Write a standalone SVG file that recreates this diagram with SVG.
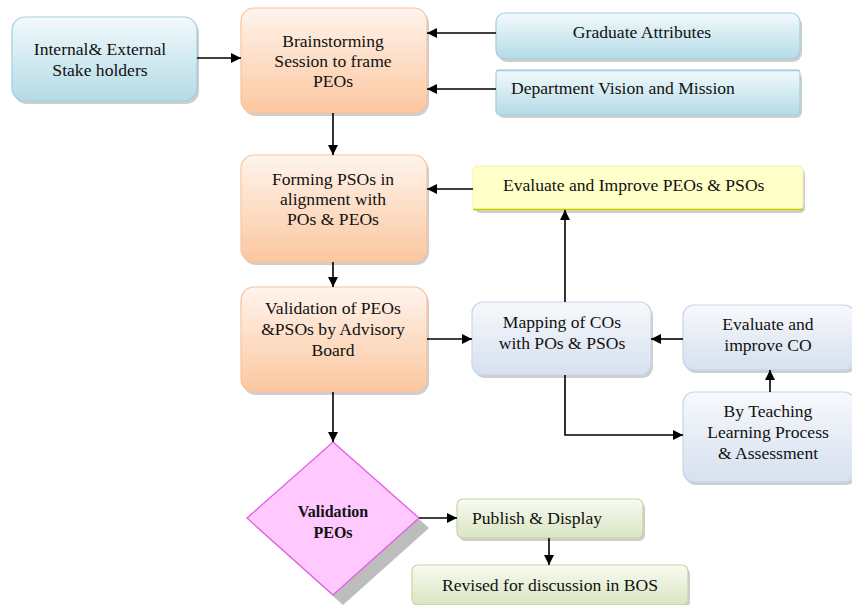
<svg xmlns="http://www.w3.org/2000/svg" width="852" height="605" viewBox="0 0 852 605">
<defs>
<linearGradient id="gBlue" x1="0" y1="0" x2="0" y2="1"><stop offset="0" stop-color="#f2fafc"/><stop offset="1" stop-color="#b4dbe6"/></linearGradient>
<linearGradient id="gOrange" x1="0" y1="0" x2="0" y2="1"><stop offset="0" stop-color="#fff4ec"/><stop offset="1" stop-color="#fbc79f"/></linearGradient>
<linearGradient id="gGrey" x1="0" y1="0" x2="0" y2="1"><stop offset="0" stop-color="#f7f9fc"/><stop offset="1" stop-color="#d6e0ef"/></linearGradient>
<linearGradient id="gGreen" x1="0" y1="0" x2="0" y2="1"><stop offset="0" stop-color="#f8fbf2"/><stop offset="1" stop-color="#d9e5c1"/></linearGradient>
<marker id="ah" viewBox="0 0 10 10" refX="10" refY="5" markerWidth="10" markerHeight="10" markerUnits="userSpaceOnUse" orient="auto"><path d="M0,0 L10,5 L0,10 z" fill="#000"/></marker>
</defs>
<style>
text{font-family:"Liberation Serif","Times New Roman",serif;font-size:17.6px;fill:#111;text-anchor:middle}
.sh{fill:#a6a6a6;opacity:0.55}
.blue{fill:url(#gBlue);stroke:#9fd0de;stroke-width:1.2}
.orange{fill:url(#gOrange);stroke:#f8c49c;stroke-width:1.2}
.grey{fill:url(#gGrey);stroke:#c9d6ea;stroke-width:1.2}
.green{fill:url(#gGreen);stroke:#c6d8a3;stroke-width:1.2}
.c{stroke:#000;stroke-width:1.6;fill:none;marker-end:url(#ah)}
</style>
<rect width="852" height="605" fill="#fff"/>

<g id="n-stake">
<rect class="sh" x="14" y="20" width="185" height="84" rx="13"/>
<rect class="blue" x="12" y="17" width="185" height="84" rx="13"/>
<text x="100" y="55">Internal&amp; External</text>
<text x="100" y="76">Stake holders</text>
</g>

<g id="n-brain">
<rect class="sh" x="243" y="11" width="186" height="105" rx="13"/>
<rect class="orange" x="241" y="8" width="186" height="105" rx="13"/>
<text x="333" y="47">Brainstorming</text>
<text x="333" y="67">Session to frame</text>
<text x="333" y="87">PEOs</text>
</g>

<g id="n-grad">
<rect class="sh" x="498" y="16" width="304" height="46" rx="9"/>
<rect class="blue" x="496" y="13" width="304" height="46" rx="9"/>
<text x="642" y="38">Graduate Attributes</text>
</g>

<g id="n-dept">
<rect class="sh" x="498" y="73" width="304" height="45" rx="6"/>
<rect class="blue" x="496" y="70" width="304" height="45" rx="4" stroke="none"/>
<line x1="496" y1="70.5" x2="800" y2="70.5" stroke="#9fd0de" stroke-width="1.5"/>
<text x="511" y="94" style="text-anchor:start">Department Vision and Mission</text>
</g>

<g id="n-form">
<rect class="sh" x="243" y="158" width="186" height="107" rx="13"/>
<rect class="orange" x="241" y="155" width="186" height="107" rx="13"/>
<text x="333" y="185">Forming PSOs in</text>
<text x="333" y="205">alignment with</text>
<text x="333" y="225">POs &amp; PEOs</text>
</g>

<g id="n-evalpeo">
<rect class="sh" x="475" y="169" width="330" height="44" rx="5"/>
<rect x="473" y="166" width="330" height="44" rx="5" fill="#ffffc8" stroke="#f2f2b0" stroke-width="1"/>
<line x1="473" y1="209.5" x2="803" y2="209.5" stroke="#c8c800" stroke-width="1.5"/>
<text x="503" y="191" style="text-anchor:start">Evaluate and Improve PEOs &amp; PSOs</text>
</g>

<g id="n-valid">
<rect class="sh" x="243" y="290" width="186" height="105" rx="13"/>
<rect class="orange" x="241" y="287" width="186" height="105" rx="13"/>
<text x="333" y="314">Validation of PEOs</text>
<text x="333" y="335">&amp;PSOs by Advisory</text>
<text x="333" y="356">Board</text>
</g>

<g id="n-map">
<rect class="sh" x="474" y="305" width="179" height="73" rx="11"/>
<rect class="grey" x="472" y="302" width="179" height="73" rx="11"/>
<text x="562" y="328">Mapping of COs</text>
<text x="562" y="349">with POs &amp; PSOs</text>
</g>

<g id="n-evalco">
<rect class="sh" x="685" y="308" width="172" height="65" rx="11"/>
<rect class="grey" x="683" y="305" width="172" height="65" rx="11"/>
<text x="768" y="330">Evaluate and</text>
<text x="768" y="351">improve CO</text>
</g>

<g id="n-teach">
<rect class="sh" x="685" y="395" width="172" height="90" rx="11"/>
<rect class="grey" x="683" y="392" width="172" height="90" rx="11"/>
<text x="768" y="417">By Teaching</text>
<text x="768" y="438">Learning Process</text>
<text x="768" y="459">&amp; Assessment</text>
</g>

<g id="n-diamond">
<polygon points="343,452 429,528 343,605 257,528" fill="#bdbdbd"/>
<polygon points="333,442 419,518 333,595 247,518" fill="#ffc8ff" stroke="#e05ee0" stroke-width="1.3"/>
<text x="333" y="517" style="font-weight:bold;font-size:16px">Validation</text>
<text x="333" y="538" style="font-weight:bold;font-size:16px">PEOs</text>
</g>

<g id="n-publish">
<rect class="sh" x="459" y="502" width="186" height="39" rx="6"/>
<rect class="green" x="457" y="499" width="186" height="39" rx="6"/>
<text x="472" y="524" style="text-anchor:start">Publish &amp; Display</text>
</g>

<g id="n-revised">
<rect class="sh" x="414" y="568" width="276" height="40" rx="6"/>
<rect class="green" x="412" y="565" width="276" height="40" rx="6"/>
<text x="550" y="591">Revised for discussion in BOS</text>
</g>

<g id="connectors">
<line class="c" x1="197" y1="58" x2="241" y2="58"/>
<line class="c" x1="496" y1="33" x2="427" y2="33"/>
<line class="c" x1="496" y1="89" x2="427" y2="89"/>
<line class="c" x1="333" y1="113" x2="333" y2="155"/>
<line class="c" x1="473" y1="189" x2="427" y2="189"/>
<line class="c" x1="333" y1="262" x2="333" y2="287"/>
<line class="c" x1="427" y1="339" x2="472" y2="339"/>
<line class="c" x1="565" y1="302" x2="565" y2="210"/>
<line class="c" x1="683" y1="339" x2="651" y2="339"/>
<line class="c" x1="770" y1="392" x2="770" y2="370"/>
<polyline class="c" points="565,375 565,435 683,435"/>
<line class="c" x1="333" y1="392" x2="333" y2="442"/>
<line class="c" x1="419" y1="518" x2="457" y2="518"/>
<line class="c" x1="549" y1="538" x2="549" y2="565"/>
</g>
</svg>
